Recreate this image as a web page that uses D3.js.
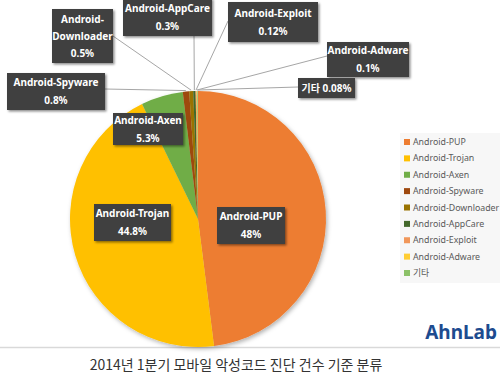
<!DOCTYPE html>
<html>
<head>
<meta charset="utf-8">
<script src="https://cdn.jsdelivr.net/npm/d3@7"></script>
<style>
  body { margin: 0; background: #fff; }
  svg { display: block; }
</style>
</head>
<body>
<div id="chart"></div>
<script>
// Chart data
const categories = ["Android-PUP", "Android-Trojan", "Android-Axen", "Android-Spyware", "Android-Downloader",
  "Android-AppCare", "Android-Exploit", "Android-Adware", "기타"];
const shares = [48, 44.8, 5.3, 0.8, 0.5, 0.3, 0.12, 0.1, 0.08];
const colors = ["#ED7D31", "#FFC000", "#70AD47", "#9E480E", "#997300", "#43682B", "#F1975A", "#FFCD33", "#8CC168"];
const title = "2014년 1분기 모바일 악성코드 진단 건수 기준 분류";

// Label box layout (x, y, w, h), and where the leader line leaves the box
const labelBoxes = [
  { x: 217, y: 207, w: 68, h: 37, lines: 2 },
  { x: 94, y: 204, w: 77, h: 37, lines: 2 },
  { x: 113, y: 113, w: 70, h: 32, lines: 2 },
  { x: 7, y: 73, w: 98, h: 37, lines: 2, lead: [105, 89] },
  { x: 52, y: 9, w: 61, h: 54, lines: 3, lead: [113, 36] },
  { x: 123, y: -2, w: 89, h: 38, lines: 2, lead: [194, 36] },
  { x: 228, y: 2, w: 90, h: 40, lines: 2, lead: [228, 21] },
  { x: 327, y: 42, w: 82, h: 35, lines: 2, lead: [327, 56] },
  { x: 298, y: 78, w: 57, h: 20, lines: 1, lead: [298, 87] }
];

const width = 500, height = 378;
const cx = 198, cy = 219, radius = 128;

const svg = d3.select("#chart").append("svg")
  .attr("width", width)
  .attr("height", height);

const defs = svg.append("defs");
defs.append("filter").attr("id", "pieShadow")
  .attr("x", "-10%").attr("y", "-10%").attr("width", "125%").attr("height", "125%")
  .append("feDropShadow")
  .attr("dx", 1.5).attr("dy", 2).attr("stdDeviation", 2)
  .attr("flood-color", "#000").attr("flood-opacity", 0.3);
defs.append("filter").attr("id", "boxShadow")
  .attr("x", "-10%").attr("y", "-10%").attr("width", "130%").attr("height", "140%")
  .append("feDropShadow")
  .attr("dx", 1.5).attr("dy", 1.5).attr("stdDeviation", 1)
  .attr("flood-color", "#000").attr("flood-opacity", 0.45);

// Chart frame bottom line
svg.append("line")
  .attr("x1", 0).attr("x2", width)
  .attr("y1", 347.5).attr("y2", 347.5)
  .attr("stroke", "#d9d9d9").attr("stroke-width", 1.5);

// Pie
const data = categories.map((c, i) => ({ name: c, value: shares[i], color: colors[i] }));
const pie = d3.pie().sort(null).value(d => d.value);
const arcs = pie(data);
const arc = d3.arc().innerRadius(0).outerRadius(radius);

const pieG = svg.append("g")
  .attr("transform", `translate(${cx},${cy})`)
  .attr("filter", "url(#pieShadow)");

pieG.selectAll("path")
  .data(arcs)
  .enter()
  .append("path")
  .attr("d", arc)
  .attr("fill", d => d.data.color);

// Leader lines
arcs.forEach((a, i) => {
  const box = labelBoxes[i];
  if (!box.lead) return;
  const mid = (a.startAngle + a.endAngle) / 2;
  const px = cx + Math.sin(mid) * (radius + 1);
  const py = cy - Math.cos(mid) * (radius + 1);
  svg.append("line")
    .attr("x1", box.lead[0]).attr("y1", box.lead[1])
    .attr("x2", px).attr("y2", py)
    .attr("stroke", "#a6a6a6").attr("stroke-width", 1);
});

// Label boxes
const fmt = v => v + "%";
arcs.forEach((a, i) => {
  const box = labelBoxes[i];
  const g = svg.append("g");
  g.append("rect")
    .attr("x", box.x).attr("y", box.y)
    .attr("width", box.w).attr("height", box.h)
    .attr("fill", "#404040")
    .attr("filter", "url(#boxShadow)");
  let lines;
  if (box.lines === 1) lines = [a.data.name + " " + fmt(a.data.value)];
  else if (box.lines === 3) lines = ["Android-", a.data.name.replace("Android-", ""), fmt(a.data.value)];
  else lines = [a.data.name, fmt(a.data.value)];
  const step = box.lines === 3 ? 17 : 18;
  const y0 = box.y + box.h / 2 - (lines.length - 1) * step / 2;
  lines.forEach((t, k) => {
    g.append("text")
      .attr("x", box.x + box.w / 2)
      .attr("y", y0 + k * step)
      .attr("dy", "0.35em")
      .attr("text-anchor", "middle")
      .attr("font-family", "'Noto Sans', 'Noto Sans CJK KR', sans-serif")
      .attr("font-weight", "bold")
      .attr("font-size", 10)
      .attr("fill", "#fff")
      .text(t);
  });
});

// Legend
const legend = svg.append("g");
legend.append("rect")
  .attr("x", 400).attr("y", 133)
  .attr("width", 100).attr("height", 150)
  .attr("fill", "#f7f7f7");

const legendY = d3.scalePoint()
  .domain(categories)
  .range([142, 273]);

const items = legend.selectAll(".item")
  .data(data)
  .enter()
  .append("g")
  .attr("class", "item")
  .attr("transform", d => `translate(404,${legendY(d.name)})`);

items.append("rect")
  .attr("x", 0).attr("y", -3)
  .attr("width", 6).attr("height", 6)
  .attr("fill", d => d.color);

items.append("text")
  .attr("x", 9)
  .attr("dy", "0.35em")
  .attr("font-family", "'Noto Sans', 'Noto Sans CJK KR', sans-serif")
  .attr("font-size", 8.8)
  .attr("fill", "#595959")
  .text(d => d.name);

// Logo
svg.append("text")
  .attr("x", 497).attr("y", 339)
  .attr("text-anchor", "end")
  .attr("font-family", "'Noto Sans', sans-serif")
  .attr("font-weight", "bold")
  .attr("font-size", 19)
  .attr("fill", "#1d4b8f")
  .text("AhnLab");

// Caption
svg.append("text")
  .attr("x", 236).attr("y", 370)
  .attr("text-anchor", "middle")
  .attr("font-family", "'Noto Sans CJK KR', sans-serif")
  .attr("font-size", 14)
  .attr("fill", "#333")
  .text(title);
</script>
</body>
</html>
